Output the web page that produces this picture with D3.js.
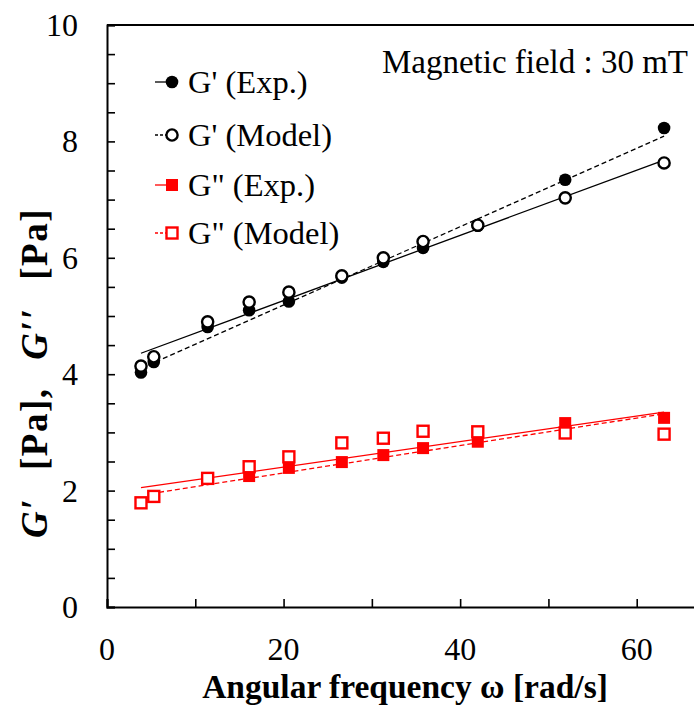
<!DOCTYPE html>
<html>
<head>
<meta charset="utf-8">
<script src="https://cdn.jsdelivr.net/npm/d3@7"></script>
<style>
  body { margin: 0; background: white; }
  svg text { font-family: "Liberation Serif", "Times New Roman", serif; }
</style>
</head>
<body>
<svg id="chart" width="694" height="705"></svg>
<script>
// angular frequency (rad/s)
const omega = [3.85, 5.3, 11.4, 16.1, 20.6, 26.6, 31.3, 35.8, 42.0, 51.9, 63.1];
// storage modulus G'
const gpExp = [4.03, 4.21, 4.81, 5.10, 5.25, 5.66, 5.93, 6.17, 6.55, 7.34, 8.23];
const gpModel = [4.14, 4.30, 4.90, 5.24, 5.41, 5.69, 6.00, 6.28, 6.56, 7.03, 7.63];
// loss modulus G''
const gppExp = [1.79, 1.89, 2.20, 2.25, 2.39, 2.49, 2.61, 2.73, 2.84, 3.16, 3.25];
const gppModel = [1.79, 1.90, 2.21, 2.41, 2.58, 2.82, 2.90, 3.02, 3.01, 2.99, 2.97];
// trend line end points [omega, value]
const gpExpFit = [[3.85, 4.36], [63.1, 7.68]];
const gpModelFit = [[3.85, 4.10], [63.1, 8.09]];
const gppExpFit = [[3.85, 2.05], [63.1, 3.35]];
const gppModelFit = [[5.0, 1.95], [63.1, 3.32]];

const xTicks = [0, 20, 40, 60];
const yTicks = [0, 2, 4, 6, 8, 10];
const legendLabels = ["G' (Exp.)", "G' (Model)", "G\" (Exp.)", "G\" (Model)"];

const margin = {top: 25, left: 107};
const width = 618;   // runs past the right edge, as in the original crop
const height = 582;

const svg = d3.select("#chart");
const g = svg.append("g").attr("transform", "translate(" + margin.left + "," + margin.top + ")");

const x = d3.scaleLinear().domain([0, 70]).range([0, width]);
const y = d3.scaleLinear().domain([0, 10]).range([height, 0]);

const red = "#ff0000";

// frame top line
g.append("line").attr("x1", 0).attr("x2", width).attr("y1", 0).attr("y2", 0)
  .attr("stroke", "black").attr("stroke-width", 2);

// axes with inward ticks
const xAxis = g.append("g").attr("transform", "translate(0," + height + ")")
  .call(d3.axisBottom(x).tickValues(d3.range(0, 71, 10)).tickSize(-8).tickFormat(""));
const yAxis = g.append("g")
  .call(d3.axisLeft(y).tickValues(d3.range(0, 10.01, 0.5)).tickSize(-8).tickFormat(""));
[xAxis, yAxis].forEach(function(a) {
  a.select(".domain").attr("stroke-width", 2);
  a.selectAll(".tick line").attr("stroke-width", 1.6);
});

g.selectAll(".xlab").data(xTicks).enter().append("text")
  .attr("x", d => x(d)).attr("y", height + 53)
  .attr("text-anchor", "middle").attr("font-size", 32).text(d => d);

g.selectAll(".ylab").data(yTicks).enter().append("text")
  .attr("x", -29).attr("y", d => y(d) + 11)
  .attr("text-anchor", "end").attr("font-size", 32).text(d => d);

// axis titles
svg.append("text").attr("x", 405).attr("y", 698).attr("text-anchor", "middle")
  .attr("font-size", 33.5).attr("font-weight", "bold").text("Angular frequency ω [rad/s]");

const yt = svg.append("text").attr("transform", "translate(47,373) rotate(-90)")
  .attr("text-anchor", "middle").attr("font-size", 37).attr("font-weight", "bold")
  .attr("letter-spacing", 1.5);
yt.append("tspan").attr("font-style", "italic").text("G′");
yt.append("tspan").text(" [Pa], ");
yt.append("tspan").attr("font-style", "italic").text("G′′");
yt.append("tspan").text(" [Pa]");
// widen the word gaps so the title spans the same length as the original
const natural = yt.node().getComputedTextLength();
yt.attr("word-spacing", Math.max(0, (330 - natural) / 3));

// trend lines
const line = d3.line().x(d => x(d[0])).y(d => y(d[1]));
const fits = [
  {pts: gpExpFit, color: "black", dash: null},
  {pts: gpModelFit, color: "black", dash: "5,3"},
  {pts: gppExpFit, color: red, dash: null},
  {pts: gppModelFit, color: red, dash: "5,3"}
];
fits.forEach(function(f) {
  g.append("path").attr("d", line(f.pts)).attr("fill", "none")
    .attr("stroke", f.color).attr("stroke-width", 1.3)
    .attr("stroke-dasharray", f.dash);
});

// markers
function circles(vals, filled) {
  g.append("g").selectAll("circle").data(vals).enter().append("circle")
    .attr("cx", (d, i) => x(omega[i])).attr("cy", d => y(d)).attr("r", filled ? 6.3 : 5.6)
    .attr("fill", filled ? "black" : "white").attr("stroke", "black")
    .attr("stroke-width", filled ? 0 : 2.4);
}
function squares(vals, filled) {
  const s = filled ? 12 : 11;
  g.append("g").selectAll("rect").data(vals).enter().append("rect")
    .attr("x", (d, i) => x(omega[i]) - s / 2).attr("y", d => y(d) - s / 2)
    .attr("width", s).attr("height", s)
    .attr("fill", filled ? red : "white").attr("stroke", red)
    .attr("stroke-width", filled ? 0 : 2.4);
}
circles(gpExp, true);
circles(gpModel, false);
squares(gppExp, true);
squares(gppModel, false);

// legend
const legendY = [82, 135, 185, 233];
const legendStyle = [
  {shape: "circle", filled: true, color: "black", dash: null},
  {shape: "circle", filled: false, color: "black", dash: "3,2"},
  {shape: "rect", filled: true, color: red, dash: null},
  {shape: "rect", filled: false, color: red, dash: "3,2"}
];
legendLabels.forEach(function(lab, i) {
  const st = legendStyle[i];
  const ly = legendY[i];
  svg.append("line").attr("x1", 155).attr("x2", 170).attr("y1", ly).attr("y2", ly)
    .attr("stroke", st.color).attr("stroke-width", 1.3).attr("stroke-dasharray", st.dash);
  if (st.shape === "circle") {
    svg.append("circle").attr("cx", 172).attr("cy", ly).attr("r", st.filled ? 6.3 : 5.6)
      .attr("fill", st.filled ? "black" : "white").attr("stroke", "black")
      .attr("stroke-width", st.filled ? 0 : 2.4);
  } else {
    const s = st.filled ? 12 : 11;
    svg.append("rect").attr("x", 172 - s / 2).attr("y", ly - s / 2).attr("width", s).attr("height", s)
      .attr("fill", st.filled ? red : "white").attr("stroke", red)
      .attr("stroke-width", st.filled ? 0 : 2.4);
  }
  svg.append("text").attr("x", 188).attr("y", ly + 11).attr("font-size", 32.5).text(lab);
});

// annotation
svg.append("text").attr("x", 688).attr("y", 73).attr("text-anchor", "end")
  .attr("font-size", 33).text("Magnetic field : 30 mT");
</script>
</body>
</html>
